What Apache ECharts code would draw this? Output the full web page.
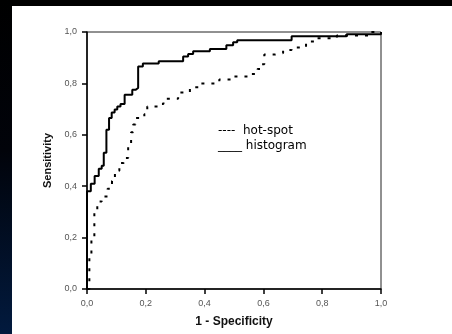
<!DOCTYPE html>
<html>
<head>
<meta charset="utf-8">
<style>
  html, body { margin: 0; padding: 0; background: #000; }
  #chart { width: 452px; height: 334px; }
</style>
<script src="https://cdn.jsdelivr.net/npm/echarts@6/dist/echarts.min.js"></script>
</head>
<body>
<div id="chart"></div>
<script>
// ROC curves: 1 - specificity (x) against sensitivity (y), drawn as staircases
const histogramX = [0, 0, 0.013, 0.026, 0.04, 0.05, 0.057, 0.066, 0.075, 0.084, 0.094, 0.103, 0.114, 0.128, 0.154, 0.165, 0.174, 0.19, 0.244, 0.327, 0.344, 0.361, 0.418, 0.474, 0.497, 0.511, 0.696, 0.883, 1.0];
const histogramY = [0, 0.38, 0.41, 0.44, 0.468, 0.48, 0.53, 0.62, 0.665, 0.687, 0.698, 0.71, 0.72, 0.756, 0.775, 0.782, 0.866, 0.877, 0.886, 0.905, 0.914, 0.925, 0.934, 0.948, 0.96, 0.968, 0.983, 0.991, 1.0];

const hotspotX = [0, 0.008, 0.015, 0.025, 0.035, 0.05, 0.07, 0.085, 0.095, 0.11, 0.125, 0.14, 0.15, 0.157, 0.165, 0.195, 0.205, 0.24, 0.26, 0.31, 0.35, 0.385, 0.45, 0.49, 0.55, 0.58, 0.595, 0.603, 0.64, 0.667, 0.696, 0.745, 0.775, 0.85, 0.96, 1.0];
const hotspotY = [0, 0.13, 0.2, 0.3, 0.34, 0.36, 0.39, 0.42, 0.46, 0.49, 0.51, 0.56, 0.61, 0.64, 0.665, 0.68, 0.71, 0.72, 0.74, 0.765, 0.785, 0.80, 0.815, 0.827, 0.837, 0.856, 0.875, 0.912, 0.918, 0.93, 0.94, 0.963, 0.976, 0.986, 1.0, 1.0];

const axisTicks = [0, 0.2, 0.4, 0.6, 0.8, 1.0];
const xTitle = '1 - Specificity';
const yTitle = 'Sensitivity';
const legendLabels = ['hot-spot', 'histogram'];

const pair = (xs, ys) => xs.map((x, i) => [x, ys[i]]);
const fmt = v => v.toFixed(1).replace('.', ',');

const chart = echarts.init(document.getElementById('chart'), null, { renderer: 'canvas' });

const axisCommon = {
  type: 'value',
  min: 0,
  max: 1,
  interval: 0.2,
  nameLocation: 'middle',
  splitLine: { show: false },
  axisLine: { show: true, lineStyle: { color: '#000', width: 1.5 } },
  axisTick: { show: true, length: 5, lineStyle: { color: '#000', width: 1.5 } },
  axisLabel: {
    color: '#555',
    fontFamily: 'Liberation Sans, Arial, sans-serif',
    fontSize: 9,
    margin: 10,
    formatter: v => fmt(v)
  },
  nameTextStyle: {
    color: '#111',
    fontFamily: 'Liberation Sans, Arial, sans-serif',
    fontWeight: 'bold'
  }
};

chart.setOption({
  backgroundColor: '#000',
  animation: false,
  graphic: [
    {
      type: 'rect', silent: true, z: -10,
      shape: { x: 0, y: 0, width: 12, height: 334 },
      style: {
        fill: new echarts.graphic.LinearGradient(0, 0, 0, 1, [
          { offset: 0, color: '#000' },
          { offset: 0.45, color: '#01030a' },
          { offset: 1, color: '#021a3e' }
        ])
      }
    },
    {
      type: 'rect', silent: true, z: -10,
      shape: { x: 12, y: 6, width: 440, height: 328 },
      style: { fill: '#fff' }
    },
    {
      type: 'text', left: 218, top: 125,
      style: { text: '----  ' + legendLabels[0], font: '12px "DejaVu Sans", sans-serif', fill: '#000' }
    },
    {
      type: 'text', left: 218, top: 140,
      style: { text: '____ ' + legendLabels[1], font: '12px "DejaVu Sans", sans-serif', fill: '#000' }
    }
  ],
  grid: {
    left: 87, right: 71, top: 32, bottom: 45,
    show: true, borderColor: '#222', borderWidth: 1, backgroundColor: 'transparent'
  },
  xAxis: Object.assign({}, axisCommon, {
    name: xTitle,
    nameGap: 27,
    nameTextStyle: Object.assign({}, axisCommon.nameTextStyle, { fontSize: 12 })
  }),
  yAxis: Object.assign({}, axisCommon, {
    name: yTitle,
    nameGap: 34,
    nameTextStyle: Object.assign({}, axisCommon.nameTextStyle, { fontSize: 11 })
  }),
  series: [
    {
      name: legendLabels[1],
      type: 'line',
      step: 'end',
      showSymbol: false,
      data: pair(histogramX, histogramY),
      lineStyle: { color: '#000', width: 2 },
      z: 3
    },
    {
      name: legendLabels[0],
      type: 'line',
      step: 'end',
      showSymbol: false,
      data: pair(hotspotX, hotspotY),
      lineStyle: { color: '#000', width: 2, type: [3, 7] },
      z: 2
    }
  ]
});
</script>
</body>
</html>
